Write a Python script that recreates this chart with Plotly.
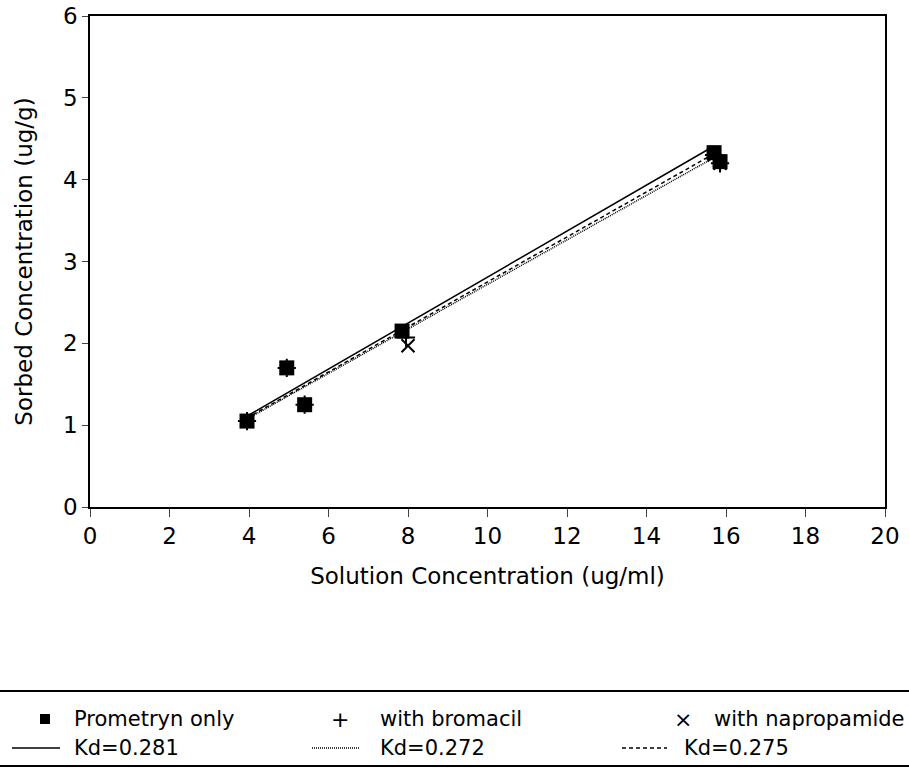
import plotly.graph_objects as go

# Data
prom_x = [3.95, 4.95, 5.4, 7.85, 15.7, 15.85]
prom_y = [1.05, 1.7, 1.25, 2.15, 4.33, 4.22]
brom_x = [3.95, 4.95, 5.4, 7.95, 15.7, 15.85]
brom_y = [1.05, 1.7, 1.25, 2.07, 4.3, 4.2]
napr_x = [3.95, 4.95, 5.4, 8.0, 15.7, 15.85]
napr_y = [1.05, 1.7, 1.25, 1.97, 4.3, 4.2]

kd_values = [0.281, 0.272, 0.275]
kd_labels = ["Kd=0.281", "Kd=0.272", "Kd=0.275"]
kd_ranges = [(3.95, 15.7), (3.95, 15.85), (3.95, 15.85)]
kd_dash = ["solid", "1px,1px", "4px,3px"]

series_labels = ["Prometryn only", "with bromacil", "with napropamide"]
series_glyphs = ["", "+", "×"]

x_ticks = list(range(0, 21, 2))
y_ticks = list(range(0, 7))

FONT = "DejaVu Sans, Arial, sans-serif"
W, H = 909, 774
ML, MR, MT, MB = 90, 24, 16, 267
PW, PH = W - ML - MR, H - MT - MB


def px(x):
    return (x - ML) / PW


def py(y):
    return (H - MB - y) / PH


fig = go.Figure()

fig.add_trace(go.Scatter(x=prom_x, y=prom_y, mode="markers", name=series_labels[0],
                         marker=dict(symbol="square", size=15, color="black")))
fig.add_trace(go.Scatter(x=brom_x, y=brom_y, mode="markers", name=series_labels[1],
                         marker=dict(symbol="cross-thin", size=13, color="black",
                                     line=dict(width=2, color="black"))))
fig.add_trace(go.Scatter(x=napr_x, y=napr_y, mode="markers", name=series_labels[2],
                         marker=dict(symbol="x-thin", size=13, color="black",
                                     line=dict(width=2, color="black"))))

for kd, lab, (x0, x1), dash in zip(kd_values, kd_labels, kd_ranges, kd_dash):
    xs = [x0, x1]
    ys = [kd * v for v in xs]
    fig.add_trace(go.Scatter(x=xs, y=ys, mode="lines", name=lab,
                             line=dict(color="black", width=1.5, dash=dash)))

tfont = dict(size=23, color="black", family=FONT)
fig.update_xaxes(range=[0, 20], tickvals=x_ticks, ticks="outside", ticklen=8,
                 showline=True, linecolor="black", linewidth=1.5, mirror=True,
                 showgrid=False, zeroline=False, automargin=False,
                 tickfont=tfont,
                 title=dict(text="Solution Concentration (ug/ml)", font=tfont, standoff=20))
fig.update_yaxes(range=[0, 6], tickvals=y_ticks, ticks="outside", ticklen=6,
                 showline=True, linecolor="black", linewidth=1.5, mirror=True,
                 showgrid=False, zeroline=False, automargin=False,
                 tickfont=tfont,
                 title=dict(text="Sorbed Concentration (ug/g)", font=tfont, standoff=24))

# legend frame lines
for yy in [691, 766]:
    fig.add_shape(type="line", xref="paper", yref="paper", x0=px(0), x1=px(W),
                  y0=py(yy), y1=py(yy), line=dict(color="black", width=2))

# custom legend (two rows, three columns)
col_sym = [45, 340, 683]
col_txt1 = [72, 378, 712]
col_line = [(12, 60), (312, 360), (622, 667)]
col_txt2 = [72, 378, 682]
row1, row2 = 719, 748
lfont = dict(size=21, color="black", family=FONT)

for i in range(3):
    if series_glyphs[i]:
        fig.add_annotation(xref="paper", yref="paper", x=px(col_sym[i]), y=py(row1),
                           text=series_glyphs[i], showarrow=False, xanchor="center",
                           yanchor="middle", font=dict(size=22, color="black", family=FONT))
    else:
        fig.add_shape(type="rect", xref="paper", yref="paper",
                      x0=px(col_sym[i] - 5), x1=px(col_sym[i] + 5),
                      y0=py(row1 - 5), y1=py(row1 + 5),
                      fillcolor="black", line=dict(width=0))
    fig.add_annotation(xref="paper", yref="paper", x=px(col_txt1[i]), y=py(row1),
                       text=series_labels[i], showarrow=False, xanchor="left",
                       yanchor="middle", font=lfont)
    fig.add_shape(type="line", xref="paper", yref="paper",
                  x0=px(col_line[i][0]), x1=px(col_line[i][1]),
                  y0=py(row2), y1=py(row2),
                  line=dict(color="black", width=1.5, dash=kd_dash[i]))
    fig.add_annotation(xref="paper", yref="paper", x=px(col_txt2[i]), y=py(row2),
                       text=kd_labels[i], showarrow=False, xanchor="left",
                       yanchor="middle", font=lfont)

fig.update_layout(
    width=W, height=H,
    margin=dict(l=ML, r=MR, t=MT, b=MB, autoexpand=False),
    paper_bgcolor="white", plot_bgcolor="white",
    font=dict(family=FONT, color="black", size=22),
    showlegend=False,
)

fig.write_html("out.html")
